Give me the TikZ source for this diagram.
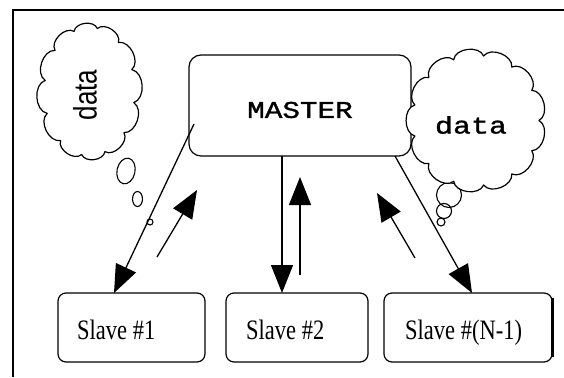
\documentclass[tikz,border=0pt]{standalone}
\usepackage{fontspec}
\usepackage{graphicx}
\setmainfont{Liberation Serif}
\newfontfamily\monofam[FakeBold=1.2]{Liberation Mono}
\newfontfamily\sansfam{Liberation Sans}
\usetikzlibrary{arrows.meta}
\begin{document}
\begin{tikzpicture}[x=1pt,y=-1pt,
  box/.style={draw, line width=1.2pt, inner sep=0pt},
  cloudline/.style={draw, fill=white, line width=1.2pt, line join=round},
  bubble/.style={draw, line width=1.1pt},
  flow/.style={line width=1.3pt, -{Triangle[length=28pt,width=22pt]}},
  slavetxt/.style={anchor=base west, inner sep=0pt, font=\fontsize{22.5}{22.5}\selectfont},
  monotxt/.style={inner sep=0pt, font=\monofam\fontsize{24}{24}\selectfont},
]
\useasboundingbox (0,0) rectangle (564,377);

% frame lines
\draw[line width=1.6pt] (13,377) -- (13,10) -- (564,10);

% master and slave boxes
\node[box, rounded corners=12pt, minimum width=222pt, minimum height=101pt] (master) at (300,105.5) {};
\node[box, rounded corners=8pt, minimum width=147pt, minimum height=69pt] (s1) at (131.5,327.5) {};
\node[box, rounded corners=8pt, minimum width=142pt, minimum height=69pt] (s2) at (297,327.5) {};
\node[box, rounded corners=8pt, minimum width=168pt, minimum height=69pt] (s3) at (468,327.5) {};
\draw[line width=2.4pt] ([yshift=-6pt]s3.north east) -- ([yshift=6pt]s3.south east);

% connector end points
\coordinate (a1) at (194,124);  \coordinate (b1) at (114,293);
\coordinate (a2) at (157,257);  \coordinate (b2) at (197,190);
\coordinate (a3) at (282,156);  \coordinate (b3) at (282,293);
\coordinate (a4) at (300,275);  \coordinate (b4) at (300,177);
\coordinate (a5) at (415,258);  \coordinate (b5) at (377,193);
\coordinate (a6) at (395,156);  \coordinate (b6) at (472,293);

\draw[flow] (a1) -- (b1);
\draw[flow] (a2) -- (b2);
\draw[flow] (a3) -- (b3);
\draw[flow] (a4) -- (b4);
\draw[flow] (a5) -- (b5);
\draw[flow] (a6) -- (b6);

% thought bubbles
\draw[bubble, rotate around={-12:(126,171)}] (126,171) ellipse (9pt and 13pt);
\draw[bubble] (137.5,199) ellipse (5pt and 7.5pt);
\draw[bubble] (150,222) circle (3pt);
\draw[bubble] (449,195) circle (12.5pt);
\draw[bubble] (444,211) circle (7.5pt);
\draw[bubble] (441,222) circle (4pt);

% clouds: puffs set on an ellipse round each centre
\foreach \k in {0,...,12}
  \coordinate (L\k) at ({89.5+45*cos(360*\k/12+10)}, {91.5+64*sin(360*\k/12+10)});
\foreach \k in {0,...,13}
  \coordinate (R\k) at ({476+63*cos(360*\k/13)}, {120.5+65*sin(360*\k/13)});
\draw[cloudline] (L0) \foreach \k in {1,...,12}{ to[bend left=75] (L\k) } -- cycle;
\draw[cloudline] (R0) \foreach \k in {1,...,13}{ to[bend left=75] (R\k) } -- cycle;

% texts
\node[inner sep=0pt, rotate=90, font=\sansfam\fontsize{26}{26}\selectfont] (t1) at (85,95) {\scalebox{1}[1.25]{data}};
\node[monotxt] (t2) at (471,125) {\scalebox{1.25}[1]{data}};
\node[monotxt] (t3) at (300,110) {\scalebox{1.22}[1]{MASTER}};
\node[slavetxt] (l1) at (77,339) {\scalebox{1}[1.25]{Slave \#1}};
\node[slavetxt] (l2) at (246,339) {\scalebox{1}[1.25]{Slave \#2}};
\node[slavetxt] (l3) at (405,339) {\scalebox{1}[1.25]{Slave \#(N-1)}};
\end{tikzpicture}
\end{document}
